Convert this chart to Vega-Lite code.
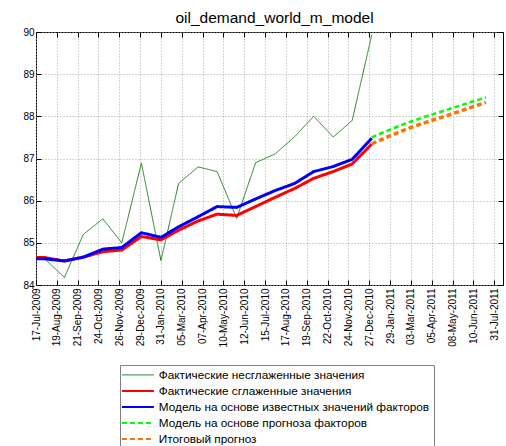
{
  "$schema": "https://vega.github.io/schema/vega-lite/v6.json",
  "width": 467,
  "height": 253,
  "autosize": {"type": "none"},
  "padding": {"left": 36, "top": 32, "right": 3, "bottom": 161},
  "background": "white",
  "title": {"text": "oil_demand_world_m_model", "font": "Liberation Sans", "fontSize": 15.5, "fontWeight": "normal", "color": "#000", "offset": 1, "dx": 5},
  "config": {
    "view": {"stroke": "#000", "strokeWidth": 1},
    "axis": {"labelFont": "Liberation Sans", "labelFontSize": 10, "labelColor": "#000", "domain": false, "gridColor": "#aaa", "gridDash": [1, 2], "gridOpacity": 1, "tickColor": "#000", "title": null}
  },
  "data": {"values": [
    {"date": "2009-06-30", "series": "Фактические несглаженные значения", "value": 84.65},
    {"date": "2009-07-31", "series": "Фактические несглаженные значения", "value": 84.62},
    {"date": "2009-08-31", "series": "Фактические несглаженные значения", "value": 84.18},
    {"date": "2009-09-30", "series": "Фактические несглаженные значения", "value": 85.20},
    {"date": "2009-10-31", "series": "Фактические несглаженные значения", "value": 85.57},
    {"date": "2009-11-30", "series": "Фактические несглаженные значения", "value": 85.00},
    {"date": "2009-12-31", "series": "Фактические несглаженные значения", "value": 86.89},
    {"date": "2010-01-31", "series": "Фактические несглаженные значения", "value": 84.58},
    {"date": "2010-02-28", "series": "Фактические несглаженные значения", "value": 86.41},
    {"date": "2010-03-31", "series": "Фактические несглаженные значения", "value": 86.80},
    {"date": "2010-04-30", "series": "Фактические несглаженные значения", "value": 86.69},
    {"date": "2010-05-31", "series": "Фактические несглаженные значения", "value": 85.58},
    {"date": "2010-06-30", "series": "Фактические несглаженные значения", "value": 86.90},
    {"date": "2010-07-31", "series": "Фактические несглаженные значения", "value": 87.11},
    {"date": "2010-08-31", "series": "Фактические несглаженные значения", "value": 87.52},
    {"date": "2010-09-30", "series": "Фактические несглаженные значения", "value": 88.00},
    {"date": "2010-10-31", "series": "Фактические несглаженные значения", "value": 87.51},
    {"date": "2010-11-30", "series": "Фактические несглаженные значения", "value": 87.90},
    {"date": "2010-12-31", "series": "Фактические несглаженные значения", "value": 89.93},
    {"date": "2009-06-30", "series": "Фактические сглаженные значения", "value": 84.66},
    {"date": "2009-07-31", "series": "Фактические сглаженные значения", "value": 84.65},
    {"date": "2009-08-31", "series": "Фактические сглаженные значения", "value": 84.57},
    {"date": "2009-09-30", "series": "Фактические сглаженные значения", "value": 84.66},
    {"date": "2009-10-31", "series": "Фактические сглаженные значения", "value": 84.79},
    {"date": "2009-11-30", "series": "Фактические сглаженные значения", "value": 84.83},
    {"date": "2009-12-31", "series": "Фактические сглаженные значения", "value": 85.15},
    {"date": "2010-01-31", "series": "Фактические сглаженные значения", "value": 85.07},
    {"date": "2010-02-28", "series": "Фактические сглаженные значения", "value": 85.30},
    {"date": "2010-03-31", "series": "Фактические сглаженные значения", "value": 85.52},
    {"date": "2010-04-30", "series": "Фактические сглаженные значения", "value": 85.68},
    {"date": "2010-05-31", "series": "Фактические сглаженные значения", "value": 85.65},
    {"date": "2010-06-30", "series": "Фактические сглаженные значения", "value": 85.86},
    {"date": "2010-07-31", "series": "Фактические сглаженные значения", "value": 86.08},
    {"date": "2010-08-31", "series": "Фактические сглаженные значения", "value": 86.29},
    {"date": "2010-09-30", "series": "Фактические сглаженные значения", "value": 86.53},
    {"date": "2010-10-31", "series": "Фактические сглаженные значения", "value": 86.69},
    {"date": "2010-11-30", "series": "Фактические сглаженные значения", "value": 86.87},
    {"date": "2010-12-31", "series": "Фактические сглаженные значения", "value": 87.34},
    {"date": "2009-06-30", "series": "Модель на основе известных значений факторов", "value": 84.62},
    {"date": "2009-07-31", "series": "Модель на основе известных значений факторов", "value": 84.62},
    {"date": "2009-08-31", "series": "Модель на основе известных значений факторов", "value": 84.57},
    {"date": "2009-09-30", "series": "Модель на основе известных значений факторов", "value": 84.66},
    {"date": "2009-10-31", "series": "Модель на основе известных значений факторов", "value": 84.85},
    {"date": "2009-11-30", "series": "Модель на основе известных значений факторов", "value": 84.89},
    {"date": "2009-12-31", "series": "Модель на основе известных значений факторов", "value": 85.24},
    {"date": "2010-01-31", "series": "Модель на основе известных значений факторов", "value": 85.13},
    {"date": "2010-02-28", "series": "Модель на основе известных значений факторов", "value": 85.38},
    {"date": "2010-03-31", "series": "Модель на основе известных значений факторов", "value": 85.62},
    {"date": "2010-04-30", "series": "Модель на основе известных значений факторов", "value": 85.86},
    {"date": "2010-05-31", "series": "Модель на основе известных значений факторов", "value": 85.84},
    {"date": "2010-06-30", "series": "Модель на основе известных значений факторов", "value": 86.04},
    {"date": "2010-07-31", "series": "Модель на основе известных значений факторов", "value": 86.24},
    {"date": "2010-08-31", "series": "Модель на основе известных значений факторов", "value": 86.41},
    {"date": "2010-09-30", "series": "Модель на основе известных значений факторов", "value": 86.69},
    {"date": "2010-10-31", "series": "Модель на основе известных значений факторов", "value": 86.81},
    {"date": "2010-11-30", "series": "Модель на основе известных значений факторов", "value": 86.98},
    {"date": "2010-12-31", "series": "Модель на основе известных значений факторов", "value": 87.48},
    {"date": "2010-12-31", "series": "Модель на основе прогноза факторов", "value": 87.50},
    {"date": "2011-01-31", "series": "Модель на основе прогноза факторов", "value": 87.70},
    {"date": "2011-02-28", "series": "Модель на основе прогноза факторов", "value": 87.86},
    {"date": "2011-03-31", "series": "Модель на основе прогноза факторов", "value": 88.02},
    {"date": "2011-04-30", "series": "Модель на основе прогноза факторов", "value": 88.16},
    {"date": "2011-05-31", "series": "Модель на основе прогноза факторов", "value": 88.31},
    {"date": "2011-06-30", "series": "Модель на основе прогноза факторов", "value": 88.45},
    {"date": "2010-12-31", "series": "Итоговый прогноз", "value": 87.35},
    {"date": "2011-01-31", "series": "Итоговый прогноз", "value": 87.55},
    {"date": "2011-02-28", "series": "Итоговый прогноз", "value": 87.72},
    {"date": "2011-03-31", "series": "Итоговый прогноз", "value": 87.88},
    {"date": "2011-04-30", "series": "Итоговый прогноз", "value": 88.02},
    {"date": "2011-05-31", "series": "Итоговый прогноз", "value": 88.18},
    {"date": "2011-06-30", "series": "Итоговый прогноз", "value": 88.33}
  ]},
  "resolve": {"axis": {"x": "independent", "y": "independent"}},
  "layer": [
    {
      "mark": {"type": "line", "clip": true, "strokeCap": "butt", "strokeJoin": "round"},
      "encoding": {
        "x": {
          "field": "date", "type": "temporal",
          "scale": {"type": "utc", "domain": [{"year": 2009, "month": 7, "date": 17, "utc": true}, {"year": 2011, "month": 7, "date": 27, "utc": true}]},
          "axis": {
            "orient": "bottom",
            "values": [
              {"year": 2009, "month": 7, "date": 17, "utc": true},
              {"year": 2009, "month": 8, "date": 19, "utc": true},
              {"year": 2009, "month": 9, "date": 21, "utc": true},
              {"year": 2009, "month": 10, "date": 24, "utc": true},
              {"year": 2009, "month": 11, "date": 26, "utc": true},
              {"year": 2009, "month": 12, "date": 29, "utc": true},
              {"year": 2010, "month": 1, "date": 31, "utc": true},
              {"year": 2010, "month": 3, "date": 5, "utc": true},
              {"year": 2010, "month": 4, "date": 7, "utc": true},
              {"year": 2010, "month": 5, "date": 10, "utc": true},
              {"year": 2010, "month": 6, "date": 12, "utc": true},
              {"year": 2010, "month": 7, "date": 15, "utc": true},
              {"year": 2010, "month": 8, "date": 17, "utc": true},
              {"year": 2010, "month": 9, "date": 19, "utc": true},
              {"year": 2010, "month": 10, "date": 22, "utc": true},
              {"year": 2010, "month": 11, "date": 24, "utc": true},
              {"year": 2010, "month": 12, "date": 27, "utc": true},
              {"year": 2011, "month": 1, "date": 29, "utc": true},
              {"year": 2011, "month": 3, "date": 3, "utc": true},
              {"year": 2011, "month": 4, "date": 5, "utc": true},
              {"year": 2011, "month": 5, "date": 8, "utc": true},
              {"year": 2011, "month": 6, "date": 10, "utc": true},
              {"year": 2011, "month": 7, "date": 13, "utc": true}
            ],
            "labelExpr": "utcFormat(datum.value, '%d-%b-%Y') == '13-Jul-2011' ? '31-Jul-2011' : utcFormat(datum.value, '%d-%b-%Y')",
            "labelAngle": 270, "labelPadding": 8, "tickSize": -5, "grid": true, "labelOverlap": false, "labelBound": false, "labelFlush": false
          }
        },
        "y": {
          "field": "value", "type": "quantitative",
          "scale": {"domain": [84, 90], "nice": false, "zero": false},
          "axis": {"orient": "left", "values": [84, 85, 86, 87, 88, 89, 90], "labelPadding": 7, "tickSize": -5, "grid": true, "labelFlush": false}
        },
        "color": {
          "field": "series", "type": "nominal",
          "scale": {
            "domain": ["Фактические несглаженные значения", "Фактические сглаженные значения", "Модель на основе известных значений факторов", "Модель на основе прогноза факторов", "Итоговый прогноз"],
            "range": ["#237f23", "#ff0000", "#0000ff", "#00ff00", "#ff7300"]
          },
          "legend": {
            "orient": "none", "legendX": 84, "legendY": 333, "title": null, "direction": "vertical",
            "symbolType": "stroke", "symbolSize": 1024, "symbolStrokeWidth": 2, "symbolOffset": 8,
            "labelFont": "Liberation Sans", "labelFontSize": 11.8, "labelColor": "#000", "labelOffset": 15, "labelLimit": 400,
            "padding": 4, "rowPadding": 3, "strokeColor": "#808080", "fillColor": "white",
            "encode": {"symbols": {"update": {"strokeWidth": {"signal": "datum.value == 'Фактические несглаженные значения' ? 1 : 2"}}}}
          }
        },
        "strokeDash": {
          "field": "series", "type": "nominal",
          "scale": {
            "domain": ["Фактические несглаженные значения", "Фактические сглаженные значения", "Модель на основе известных значений факторов", "Модель на основе прогноза факторов", "Итоговый прогноз"],
            "range": [[1, 0], [1, 0], [1, 0], [5, 3], [5, 3]]
          }
        },
        "strokeWidth": {
          "condition": [
            {"test": "datum.series == 'Фактические несглаженные значения'", "value": 1},
            {"test": "datum.series == 'Модель на основе прогноза факторов'", "value": 2.5},
            {"test": "datum.series == 'Итоговый прогноз'", "value": 3.5}
          ],
          "value": 3
        }
      }
    },
    {
      "mark": {"type": "line", "strokeOpacity": 0},
      "encoding": {
        "x": {"field": "date", "type": "temporal", "axis": {"orient": "top", "labels": false, "grid": false, "tickSize": -5, "title": null,
          "values": [
              {"year": 2009, "month": 7, "date": 17, "utc": true},
              {"year": 2009, "month": 8, "date": 19, "utc": true},
              {"year": 2009, "month": 9, "date": 21, "utc": true},
              {"year": 2009, "month": 10, "date": 24, "utc": true},
              {"year": 2009, "month": 11, "date": 26, "utc": true},
              {"year": 2009, "month": 12, "date": 29, "utc": true},
              {"year": 2010, "month": 1, "date": 31, "utc": true},
              {"year": 2010, "month": 3, "date": 5, "utc": true},
              {"year": 2010, "month": 4, "date": 7, "utc": true},
              {"year": 2010, "month": 5, "date": 10, "utc": true},
              {"year": 2010, "month": 6, "date": 12, "utc": true},
              {"year": 2010, "month": 7, "date": 15, "utc": true},
              {"year": 2010, "month": 8, "date": 17, "utc": true},
              {"year": 2010, "month": 9, "date": 19, "utc": true},
              {"year": 2010, "month": 10, "date": 22, "utc": true},
              {"year": 2010, "month": 11, "date": 24, "utc": true},
              {"year": 2010, "month": 12, "date": 27, "utc": true},
              {"year": 2011, "month": 1, "date": 29, "utc": true},
              {"year": 2011, "month": 3, "date": 3, "utc": true},
              {"year": 2011, "month": 4, "date": 5, "utc": true},
              {"year": 2011, "month": 5, "date": 8, "utc": true},
              {"year": 2011, "month": 6, "date": 10, "utc": true},
              {"year": 2011, "month": 7, "date": 13, "utc": true}
          ]}},
        "y": {"field": "value", "type": "quantitative", "axis": {"orient": "right", "labels": false, "grid": false, "tickSize": -5, "title": null, "values": [84, 85, 86, 87, 88, 89, 90]}},
        "detail": {"field": "series", "type": "nominal"}
      }
    }
  ]
}
